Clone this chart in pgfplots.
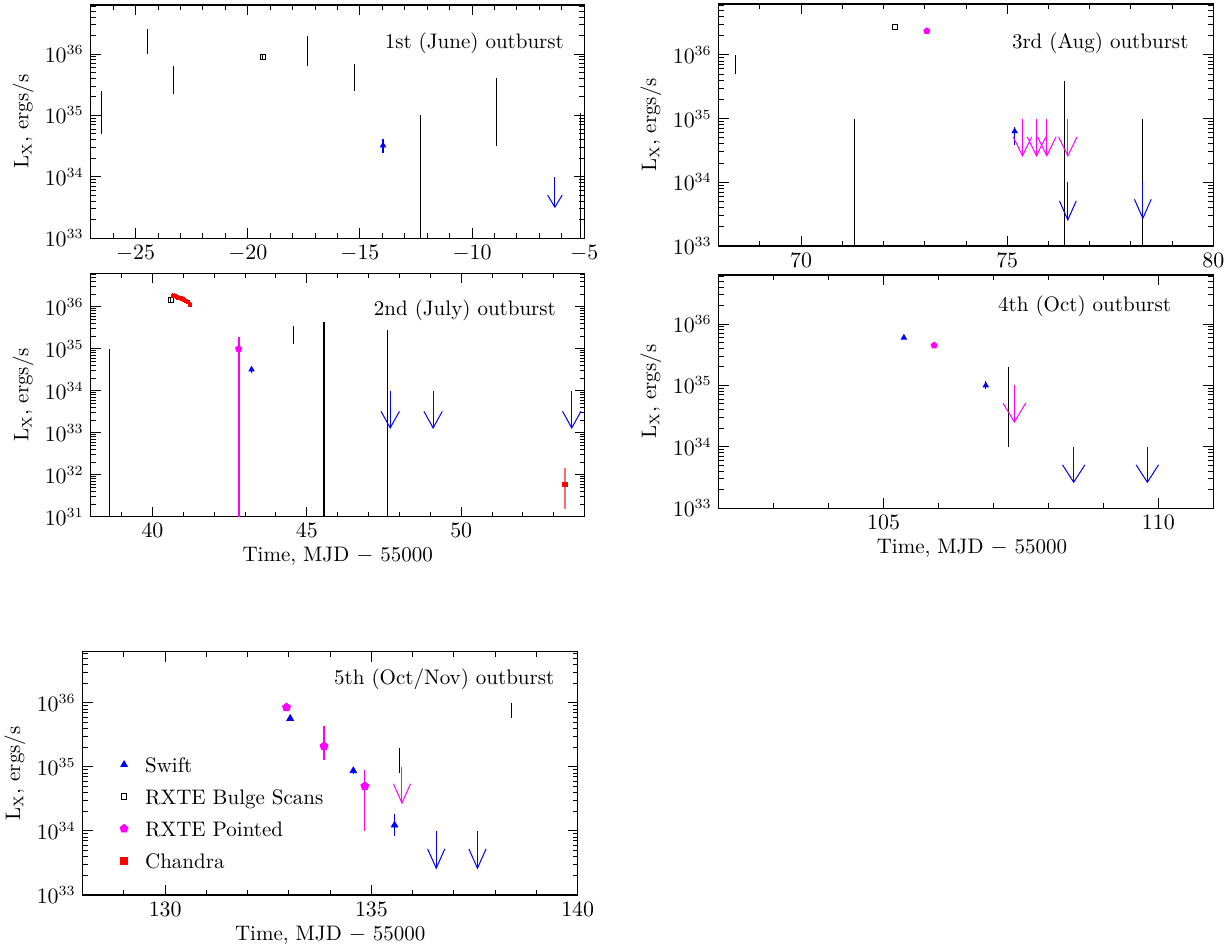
\documentclass[border=0pt]{standalone}
\usepackage{pgfplots}
\pgfplotsset{compat=1.18}
\usetikzlibrary{arrows.meta,plotmarks}
\definecolor{mag}{RGB}{255,0,255}
\definecolor{blu}{RGB}{0,0,255}
\definecolor{rd}{RGB}{255,0,0}
\definecolor{rdl}{RGB}{250,110,110}
\newcommand{\lbf}{\fontsize{10.5}{12}\selectfont}
\pgfplotsset{
  myminyt/.style={minor ytick={2e31,3e31,4e31,5e31,6e31,7e31,8e31,9e31,
     2e32,3e32,4e32,5e32,6e32,7e32,8e32,9e32,
     2e33,3e33,4e33,5e33,6e33,7e33,8e33,9e33,
     2e34,3e34,4e34,5e34,6e34,7e34,8e34,9e34,
     2e35,3e35,4e35,5e35,6e35,7e35,8e35,9e35,
     2e36,3e36,4e36,5e36,6e36}},
  mylook/.style={
    axis line style={line width=0.6pt},
    every tick/.style={black, line width=0.5pt},
    major tick length=5pt, minor tick length=2.5pt,
    tick label style={font=\lbf},
    every axis y label/.style={at={(axis description cs:-0.137,0.5)}, rotate=90, anchor=center, font=\lbf},
    every axis x label/.style={at={(axis description cs:0.5,0)}, anchor=center, yshift=-20pt, font=\lbf},
    legend image code/.code={\path[draw=none,fill=none] (0pt,0pt) (17pt,1pt); \path[draw=none,fill=none,##1] plot coordinates {(8.5pt,1.5pt)};},
  },
  mkswift/.style={only marks, mark=triangle*, blu, mark size=#1, forget plot},
  mkswift/.default=1.5pt,
  mkpoint/.style={only marks, mark=pentagon*, mag, mark size=#1, forget plot},
  mkpoint/.default=1.6pt,
  mkbulge/.style={only marks, mark=square, black, mark size=1.25pt, forget plot, mark options={line width=0.5pt}},
  mkchan/.style={only marks, mark=square*, rd, mark size=#1, forget plot},
  mkchan/.default=1.2pt,
  sgk/.style={black, line width=0.5pt, forget plot},
  sgc/.style={#1, line width=0.6pt, forget plot},
  ulim/.style n args={3}{#1, line width=0.5pt, forget plot, -{Straight Barb[length=#2,width=#3]}},
}
\begin{document}
\begin{tikzpicture}
\path[use as bounding box] (0,0) rectangle (614.5pt,475.5pt);

% ---------- Panel 1 : 1st (June) outburst
\begin{axis}[ymode=log, scale only axis, anchor=south west, mylook, myminyt,
  ymin=1e33, ymax=6.3e36, ytick={1e33,1e34,1e35,1e36},
  ylabel={L$_{\mathrm{X}}$, ergs/s},
  at={(45.35pt,356.35pt)}, width=246.8pt, height=116.65pt,
  xmin=-27, xmax=-5, xtick={-25,-20,-15,-10,-5}, minor xtick={-27,-26,...,-5}]
\addplot[sgk] coordinates {(-26.52,5e34) (-26.52,2.5e35)};
\addplot[sgk] coordinates {(-24.48,1e36) (-24.48,2.6e36)};
\addplot[sgk] coordinates {(-23.29,2.2e35) (-23.29,6.5e35)};
\addplot[sgk] coordinates {(-17.32,6.3e35) (-17.32,2e36)};
\addplot[sgk] coordinates {(-15.24,2.5e35) (-15.24,6.8e35)};
\addplot[sgk] coordinates {(-12.30,1e30) (-12.30,1e35)};
\addplot[sgk] coordinates {(-8.91,3.2e34) (-8.91,4e35)};
\addplot[sgk] coordinates {(-5.18,1e30) (-5.18,1.1e35)};
\addplot[sgk] coordinates {(-19.33,8.4e35) (-19.33,9.9e35)};
\addplot[mkbulge] coordinates {(-19.33,9.1e35)};
\addplot[sgc=blu] coordinates {(-13.97,2.45e34) (-13.97,4.1e34)};
\addplot[mkswift] coordinates {(-13.97,3.25e34)};
\addplot[ulim={blu}{6pt}{7.3pt}] coordinates {(-6.31,1e34) (-6.31,3.1e33)};
\node[anchor=east, font=\lbf] at (rel axis cs:0.973,0.837) {1st (June) outburst};
\end{axis}

% ---------- Panel 2 : 3rd (Aug) outburst
\begin{axis}[ymode=log, scale only axis, anchor=south west, mylook, myminyt,
  ymin=1e33, ymax=6.3e36, ytick={1e33,1e34,1e35,1e36},
  ylabel={L$_{\mathrm{X}}$, ergs/s},
  at={(359.35pt,352.5pt)}, width=247.3pt, height=121pt,
  xmin=68, xmax=80, xtick={70,75,80}, minor xtick={68,69,...,80}]
\addplot[sgk] coordinates {(68.40,5e35) (68.40,1e36)};
\addplot[sgk] coordinates {(71.29,1e30) (71.29,1e35)};
\addplot[sgk] coordinates {(76.39,1e30) (76.39,3.9e35)};
\addplot[sgk] coordinates {(78.29,1e30) (78.29,1e35)};
\addplot[mkbulge] coordinates {(72.28,2.75e36)};
\addplot[mkpoint] coordinates {(73.05,2.37e36)};
\addplot[sgc=blu] coordinates {(75.18,3.9e34) (75.18,7.5e34)};
\addplot[mkswift] coordinates {(75.18,6.3e34)};
\addplot[ulim={mag}{9.5pt}{9.3pt}] coordinates {(75.37,1e35) (75.37,2.5e34)};
\addplot[ulim={mag}{9.5pt}{9.3pt}] coordinates {(75.71,1e35) (75.71,2.5e34)};
\addplot[ulim={mag}{9.5pt}{9.3pt}] coordinates {(75.96,1e35) (75.96,2.5e34)};
\addplot[ulim={mag}{9.5pt}{9.3pt}] coordinates {(76.47,1e35) (76.47,2.5e34)};
\addplot[ulim={blu}{9.5pt}{8.4pt}] coordinates {(76.47,1e34) (76.47,2.45e33)};
\addplot[ulim={blu}{9.5pt}{8.4pt}] coordinates {(78.29,1e34) (78.29,2.6e33)};
\node[anchor=east, font=\lbf] at (rel axis cs:0.964,0.839) {3rd (Aug) outburst};
\end{axis}

% ---------- Panel 3 : 2nd (July) outburst
\begin{axis}[ymode=log, scale only axis, anchor=south west, mylook, myminyt,
  ymin=1e31, ymax=6.3e36, ytick={1e31,1e32,1e33,1e34,1e35,1e36},
  ylabel={L$_{\mathrm{X}}$, ergs/s},
  at={(45.35pt,217.15pt)}, width=247pt, height=121.7pt,
  xmin=38, xmax=54, xtick={40,45,50}, minor xtick={38,39,...,54},
  xlabel={Time, MJD $-$ 55000}]
\addplot[sgk] coordinates {(38.62,1e29) (38.62,1e35)};
\addplot[sgk] coordinates {(44.56,1.3e35) (44.56,3.5e35)};
\addplot[black, line width=1pt, forget plot] coordinates {(45.57,1e29) (45.57,4.3e35)};
\addplot[sgk] coordinates {(47.61,1e29) (47.61,2.8e35)};
\addplot[sgk] coordinates {(40.60,1.2e36) (40.60,1.7e36)};
\addplot[mkbulge] coordinates {(40.60,1.45e36)};
\addplot[sgc=rd] coordinates {(40.66,1.62e36) (40.66,2.14e36)};
\addplot[sgc=rd] coordinates {(40.72,1.58e36) (40.72,2.09e36)};
\addplot[sgc=rd] coordinates {(40.78,1.51e36) (40.78,2.00e36)};
\addplot[sgc=rd] coordinates {(40.84,1.44e36) (40.84,1.91e36)};
\addplot[sgc=rd] coordinates {(40.90,1.41e36) (40.90,1.86e36)};
\addplot[sgc=rd] coordinates {(40.96,1.35e36) (40.96,1.78e36)};
\addplot[sgc=rd] coordinates {(41.02,1.29e36) (41.02,1.70e36)};
\addplot[sgc=rd] coordinates {(41.08,1.23e36) (41.08,1.62e36)};
\addplot[sgc=rd] coordinates {(41.14,1.15e36) (41.14,1.52e36)};
\addplot[sgc=rd] coordinates {(41.22,0.97e36) (41.22,1.29e36)};
\addplot[mkchan=0.8pt] coordinates {(40.66,1.86e36) (40.72,1.82e36) (40.78,1.74e36) (40.84,1.66e36) (40.90,1.62e36) (40.96,1.55e36) (41.02,1.48e36) (41.08,1.41e36) (41.14,1.32e36) (41.22,1.12e36)};
\addplot[mag, line width=1pt, forget plot] coordinates {(42.79,1e29) (42.79,1.95e35)};
\addplot[mkpoint] coordinates {(42.79,1e35)};
\addplot[sgc=blu] coordinates {(43.21,2.7e34) (43.21,3.9e34)};
\addplot[mkswift] coordinates {(43.21,3.2e34)};
\addplot[ulim={blu}{8.3pt}{9.2pt}] coordinates {(47.70,1e34) (47.70,1.23e33)};
\addplot[ulim={blu}{8.3pt}{9.2pt}] coordinates {(49.09,1e34) (49.09,1.23e33)};
\addplot[ulim={blu}{8.3pt}{9.2pt}] coordinates {(53.58,1e34) (53.58,1.23e33)};
\addplot[rdl, line width=0.9pt, forget plot] coordinates {(53.35,1.49e31) (53.35,1.48e32)};
\addplot[mkchan=1.2pt] coordinates {(53.35,5.9e31)};
\node[anchor=east, font=\lbf] at (rel axis cs:0.956,0.849) {2nd (July) outburst};
\end{axis}

% ---------- Panel 4 : 4th (Oct) outburst
\begin{axis}[ymode=log, scale only axis, anchor=south west, mylook, myminyt,
  ymin=1e33, ymax=6.3e36, ytick={1e33,1e34,1e35,1e36},
  ylabel={L$_{\mathrm{X}}$, ergs/s},
  at={(359.35pt,221.35pt)}, width=247.3pt, height=116.65pt,
  xmin=102, xmax=111, xtick={105,110}, minor xtick={102,103,...,111},
  xlabel={Time, MJD $-$ 55000},
  every axis x label/.style={at={(axis description cs:0.512,0)}, anchor=center, yshift=-20pt, font=\lbf}]
\addplot[mkswift] coordinates {(105.37,6.0e35)};
\addplot[mkpoint] coordinates {(105.92,4.5e35)};
\addplot[sgc=blu] coordinates {(106.86,8.9e34) (106.86,1.17e35)};
\addplot[mkswift] coordinates {(106.86,1.0e35)};
\addplot[sgk] coordinates {(107.28,1e34) (107.28,2e35)};
\addplot[ulim={mag}{9.5pt}{11.4pt}] coordinates {(107.38,1e35) (107.38,2.45e34)};
\addplot[ulim={blu}{8.7pt}{11.2pt}] coordinates {(108.46,1e34) (108.46,2.56e33)};
\addplot[ulim={blu}{8.7pt}{11.2pt}] coordinates {(109.80,1e34) (109.80,2.56e33)};
\node[anchor=east, font=\lbf] at (rel axis cs:0.929,0.864) {4th (Oct) outburst};
\end{axis}

% ---------- Panel 5 : 5th (Oct/Nov) outburst
\begin{axis}[ymode=log, scale only axis, anchor=south west, mylook, myminyt,
  ymin=1e33, ymax=6.3e36, ytick={1e33,1e34,1e35,1e36},
  ylabel={L$_{\mathrm{X}}$, ergs/s},
  at={(41.35pt,28pt)}, width=247.5pt, height=121.65pt,
  xmin=128, xmax=140, xtick={130,135,140}, minor xtick={128,129,...,140},
  xlabel={Time, MJD $-$ 55000},
  legend style={at={(axis description cs:0,0.562)}, anchor=north west, xshift=12pt,
    draw=none, fill=none, inner sep=0pt, row sep=7pt, column sep=2pt,
    nodes={inner sep=0pt, text height=7pt, text depth=2pt, font=\lbf},
    cells={anchor=west}}]
\addlegendimage{mark=triangle*, blu, mark size=1.9pt}
\addlegendentry{Swift}
\addlegendimage{mark=square, black, mark size=1.35pt, line width=0.5pt}
\addlegendentry{RXTE Bulge Scans}
\addlegendimage{mark=pentagon*, mag, mark size=2.1pt}
\addlegendentry{RXTE Pointed}
\addlegendimage{mark=square*, rd, mark size=1.75pt}
\addlegendentry{Chandra}
\addplot[mkpoint=2.1pt] coordinates {(132.94,8.5e35)};
\addplot[mkswift=1.9pt] coordinates {(133.03,5.7e35)};
\addplot[sgc=mag] coordinates {(133.85,1.3e35) (133.85,4.3e35)};
\addplot[mkpoint=2.1pt] coordinates {(133.85,2.1e35)};
\addplot[sgc=blu] coordinates {(134.56,7.8e34) (134.56,9.7e34)};
\addplot[mkswift=1.9pt] coordinates {(134.56,8.7e34)};
\addplot[sgc=mag] coordinates {(134.84,1e34) (134.84,8.9e34)};
\addplot[mkpoint=2.1pt] coordinates {(134.84,5.0e34)};
\addplot[sgk] coordinates {(135.67,8.1e34) (135.67,2e35)};
\addplot[ulim={mag}{9.7pt}{8.6pt}] coordinates {(135.74,1e35) (135.74,2.6e34)};
\addplot[sgc=blu] coordinates {(135.56,8.2e33) (135.56,1.83e34)};
\addplot[mkswift=1.9pt] coordinates {(135.56,1.23e34)};
\addplot[ulim={blu}{9.7pt}{8.6pt}] coordinates {(136.57,1e34) (136.57,2.5e33)};
\addplot[ulim={blu}{9.7pt}{8.6pt}] coordinates {(137.57,1e34) (137.57,2.5e33)};
\addplot[sgk] coordinates {(138.39,5.8e35) (138.39,1e36)};
\node[anchor=east, font=\lbf] at (rel axis cs:0.967,0.888) {5th (Oct/Nov) outburst};
\end{axis}
\end{tikzpicture}
\end{document}
